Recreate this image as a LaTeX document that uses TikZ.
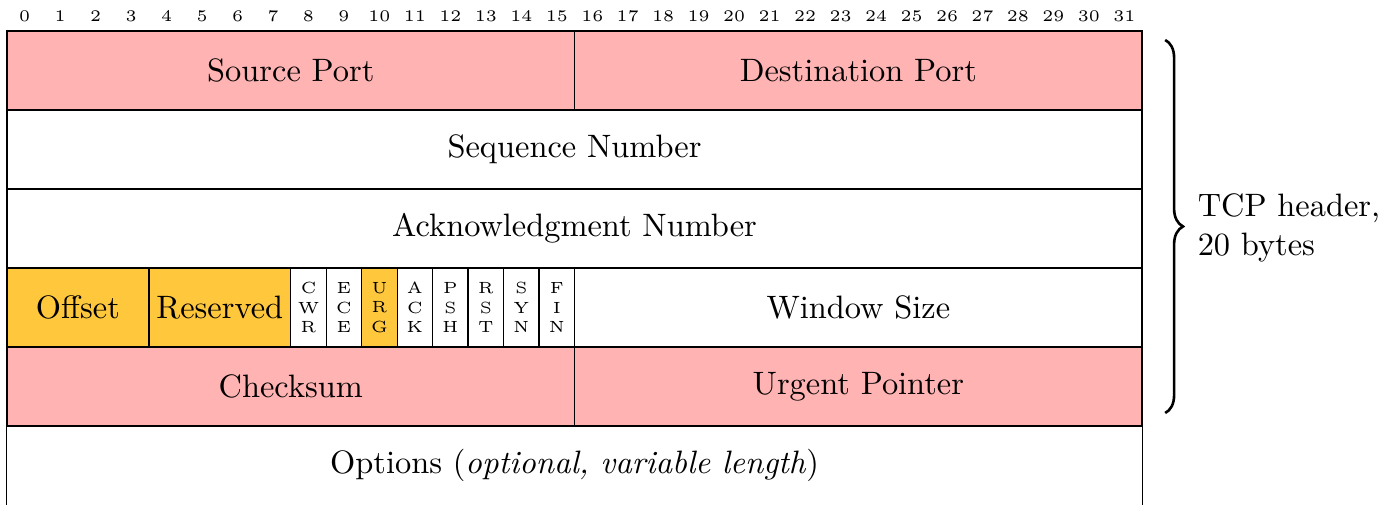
\documentclass[tikz,border=0pt]{standalone}
\usetikzlibrary{decorations.pathreplacing}
\definecolor{hdrpink}{RGB}{255,179,179}
\definecolor{hdryellow}{RGB}{255,200,60}
\begin{document}
% one x unit = one bit, one y unit = one 32-bit row (downwards)
\begin{tikzpicture}[x=10.946pt, y=-24.38pt,
  field/.style={draw=black, rectangle, inner sep=0pt, minimum height=24.38pt, font=\normalsize},
  flag/.style={field, font=\tiny, align=center},
  bitnum/.style={font=\tiny, inner sep=0pt},
  note/.style={align=left, anchor=west, inner sep=0pt}]
  \useasboundingbox (-0.197,-0.392) rectangle (38.79,5.987);

  % bit numbers
  \foreach \b in {0,...,31}
    \node[bitnum] (bit\b) at (\b+0.5,-0.19) {\b};

  % row 0
  \node[field, fill=hdrpink, minimum width=16*10.946pt] (srcport) at (8,0.5) {Source Port};
  \node[field, fill=hdrpink, minimum width=16*10.946pt] (dstport) at (24,0.5) {Destination Port};
  % rows 1 and 2
  \node[field, minimum width=32*10.946pt] (seqnum) at (16,1.5) {Sequence Number};
  \node[field, minimum width=32*10.946pt] (acknum) at (16,2.5) {Acknowledgment Number};
  % row 3
  \node[field, fill=hdryellow, minimum width=4*10.946pt] (offset) at (2,3.5) {Offset};
  \node[field, fill=hdryellow, minimum width=4*10.946pt] (reserved) at (6,3.5) {Reserved};
  \node[flag, minimum width=10.946pt] (cwr) at (8.5,3.5) {C\\W\\R};
  \node[flag, minimum width=10.946pt] (ece) at (9.5,3.5) {E\\C\\E};
  \node[flag, fill=hdryellow, minimum width=10.946pt] (urg) at (10.5,3.5) {U\\R\\G};
  \node[flag, minimum width=10.946pt] (ack) at (11.5,3.5) {A\\C\\K};
  \node[flag, minimum width=10.946pt] (psh) at (12.5,3.5) {P\\S\\H};
  \node[flag, minimum width=10.946pt] (rst) at (13.5,3.5) {R\\S\\T};
  \node[flag, minimum width=10.946pt] (syn) at (14.5,3.5) {S\\Y\\N};
  \node[flag, minimum width=10.946pt] (fin) at (15.5,3.5) {F\\I\\N};
  \node[field, minimum width=16*10.946pt] (window) at (24,3.5) {Window Size};
  % row 4
  \node[field, fill=hdrpink, minimum width=16*10.946pt] (checksum) at (8,4.5) {Checksum};
  \node[field, fill=hdrpink, minimum width=16*10.946pt] (urgptr) at (24,4.5) {Urgent Pointer};
  % row 5: options, open at the bottom
  \node[field, draw=none, minimum width=32*10.946pt] (options) at (16,5.5) {Options (\emph{optional, variable length})};
  \draw (options.north west) -- (options.south west);
  \draw (options.north east) -- (options.south east);

  % brace over the fixed header
  \coordinate (bracetop) at (32.65,0.114);
  \coordinate (bracebot) at (32.65,4.835);
  \draw[thick, decorate, decoration={brace, amplitude=5.5pt}] (bracetop) -- (bracebot);
  \node[note] (hdrnote) at (33.55,2.49) {TCP header,\\20 bytes};
\end{tikzpicture}
\end{document}
